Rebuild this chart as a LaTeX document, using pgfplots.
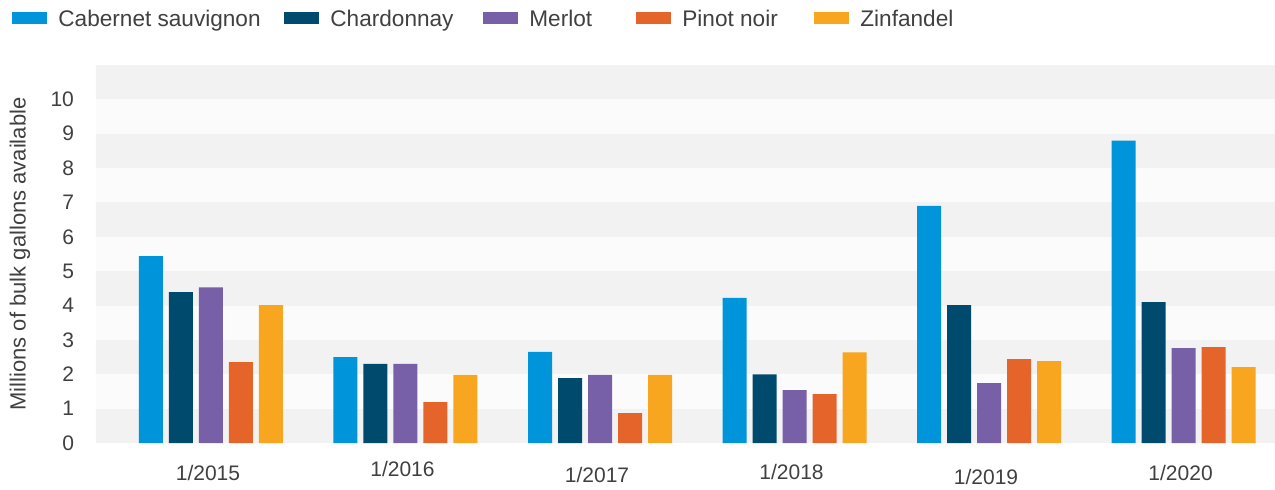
\documentclass[border=0pt]{standalone}
\usepackage{pgfplots}
\pgfplotsset{compat=1.18}
\usepackage{pgfplotstable}
\usepackage{fontspec}
\setmainfont{Liberation Sans}
\definecolor{cab}{HTML}{0095DA}
\definecolor{chard}{HTML}{004B6D}
\definecolor{merlot}{HTML}{7860A9}
\definecolor{pinot}{HTML}{E5642A}
\definecolor{zin}{HTML}{F8A51F}
\definecolor{banddark}{HTML}{F2F2F2}
\definecolor{bandlight}{HTML}{FBFBFB}
\definecolor{txt}{HTML}{404040}

\pgfplotstableread{
x cab chard merlot pinot zin
0 5.44 4.39 4.53 2.35 4.01
1 2.50 2.30 2.30 1.19 1.98
2 2.65 1.89 1.98 0.87 1.98
3 4.22 2.00 1.54 1.42 2.64
4 6.90 4.01 1.74 2.44 2.38
5 8.80 4.10 2.76 2.79 2.21
}\winedata

\pgfplotsset{mylegend/.style={legend image code/.code={\fill[##1,draw=none] (0pt,-1.85pt) rectangle (17.5pt,4.15pt);}}}
\newcommand{\lt}[2]{\makebox[#1][l]{#2\vphantom{Clg}}}

\begin{document}
\begin{tikzpicture}
\useasboundingbox (-48pt,-23pt) rectangle (589.5pt,221.5pt);
\begin{axis}[
  at={(0pt,0pt)}, anchor=south west,
  scale only axis, width=589.5pt, height=189pt,
  xmin=-0.591, xmax=5.47, ymin=0, ymax=11,
  ybar=3pt, bar width=12pt,
  axis background/.style={fill=bandlight},
  axis line style={draw=none}, major tick length=0pt, tick style={draw=none},
  ytick={0,1,...,10},
  xtick={0,1,2,3,4,5},
  xticklabels={1/2015,\raisebox{2pt}{1/2016},\raisebox{-1pt}{1/2017},\raisebox{0.5pt}{1/2018},\raisebox{-2pt}{1/2019},1/2020},
  /pgf/number format/assume math mode=true,
  yticklabel style={font=\fontsize{10.5}{12}\selectfont, text=txt, anchor=east, xshift=-7.5pt},
  xticklabel style={font=\fontsize{10.5}{12}\selectfont, text=txt, anchor=base, yshift=-18.75pt, xshift=-1.5pt},
  ylabel={Millions of bulk gallons available},
  every axis y label/.style={at={(axis description cs:-0.06446,0.5)}, rotate=90, anchor=center, font=\fontsize{11}{13}\selectfont, text=txt},
  legend columns=5,
  legend style={at={(axis description cs:0,1)}, anchor=west, xshift=-42pt, yshift=22.4pt,
    draw=none, fill=none, inner sep=0pt,
    nodes={inner sep=0pt, text=txt, font=\fontsize{11.3}{13}\selectfont},
    /tikz/every odd column/.append style={column sep=5.5pt}},
]
\fill[banddark] (axis cs:-1,0) rectangle (axis cs:6,1);
\fill[banddark] (axis cs:-1,2) rectangle (axis cs:6,3);
\fill[banddark] (axis cs:-1,4) rectangle (axis cs:6,5);
\fill[banddark] (axis cs:-1,6) rectangle (axis cs:6,7);
\fill[banddark] (axis cs:-1,8) rectangle (axis cs:6,9);
\fill[banddark] (axis cs:-1,10) rectangle (axis cs:6,11);
\addplot[fill=cab, draw=none, mylegend] table[x=x,y=cab] {\winedata};
\addlegendentry{\lt{113pt}{Cabernet sauvignon}}
\addplot[fill=chard, draw=none, mylegend] table[x=x,y=chard] {\winedata};
\addlegendentry{\lt{76.5pt}{Chardonnay}}
\addplot[fill=merlot, draw=none, mylegend] table[x=x,y=merlot] {\winedata};
\addlegendentry{\lt{53.5pt}{Merlot}}
\addplot[fill=pinot, draw=none, mylegend] table[x=x,y=pinot] {\winedata};
\addlegendentry{\lt{66pt}{Pinot noir}}
\addplot[fill=zin, draw=none, mylegend] table[x=x,y=zin] {\winedata};
\addlegendentry{\lt{50pt}{Zinfandel}}
\end{axis}
\end{tikzpicture}
\end{document}
